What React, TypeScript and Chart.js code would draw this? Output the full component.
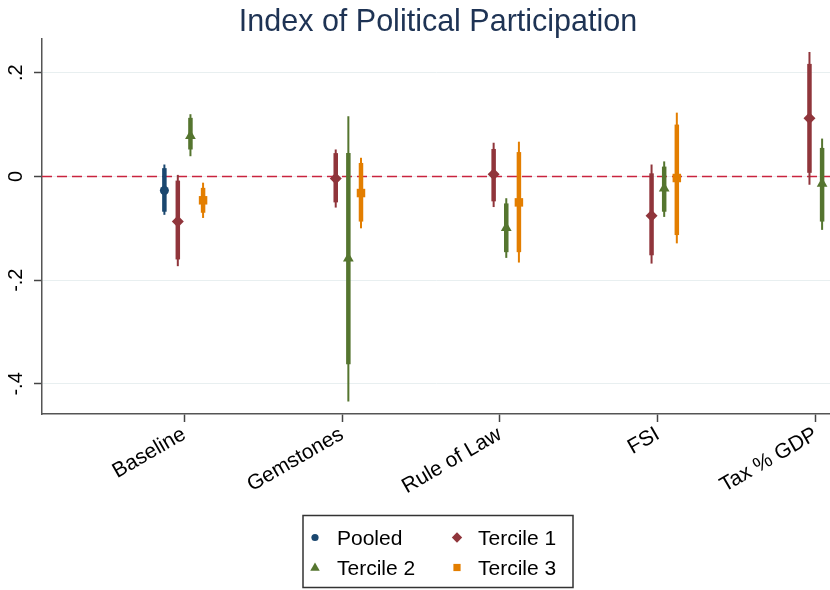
import React, { useEffect, useRef } from "react";
import { Chart, registerables } from "chart.js";

Chart.register(...registerables);

// ---------- data ----------
const chartTitle = "Index of Political Participation";
const categories = ["Baseline", "Gemstones", "Rule of Law", "FSI", "Tax % GDP"];
const yTickValues = [-0.4, -0.2, 0, 0.2];
const yTickLabels = ["-.4", "-.2", "0", ".2"];
const seriesNames = ["Pooled", "Tercile 1", "Tercile 2", "Tercile 3"];

const pooledCoef = [-0.027, null, null, null, null];
const pooledLo95 = [-0.074, null, null, null, null];
const pooledHi95 = [0.023, null, null, null, null];
const pooledLo90 = [-0.068, null, null, null, null];
const pooledHi90 = [0.016, null, null, null, null];

const t1Coef = [-0.087, -0.004, 0.004, -0.076, 0.112];
const t1Lo95 = [-0.173, -0.06, -0.059, -0.168, -0.016];
const t1Hi95 = [0.003, 0.052, 0.065, 0.023, 0.24];
const t1Lo90 = [-0.16, -0.05, -0.048, -0.152, 0.007];
const t1Hi90 = [-0.008, 0.045, 0.053, 0.006, 0.217];

const t2Coef = [0.078, -0.158, -0.099, -0.023, -0.014];
const t2Lo95 = [0.039, -0.434, -0.157, -0.078, -0.103];
const t2Hi95 = [0.12, 0.116, -0.042, 0.029, 0.073];
const t2Lo90 = [0.052, -0.362, -0.146, -0.068, -0.087];
const t2Hi90 = [0.113, 0.045, -0.052, 0.019, 0.055];

const t3Coef = [-0.046, -0.032, -0.05, -0.003, null];
const t3Lo95 = [-0.08, -0.1, -0.166, -0.129, null];
const t3Hi95 = [-0.012, 0.036, 0.067, 0.123, null];
const t3Lo90 = [-0.07, -0.087, -0.146, -0.113, null];
const t3Hi90 = [-0.022, 0.026, 0.047, 0.1, null];

// ---------- styles ----------
const FONT = "'Liberation Sans', Arial, Helvetica, sans-serif";
const colors = ["#1a476f", "#90353b", "#55752f", "#e37e00"];
const pointStyles = ["circle", "rectRot", "triangle", "rect"];
const pointRadii = [4.5, 6, 6.2, 6];
const offsets = [-0.125, -0.04, 0.04, 0.12];

const series = [
  { coef: pooledCoef, lo95: pooledLo95, hi95: pooledHi95, lo90: pooledLo90, hi90: pooledHi90 },
  { coef: t1Coef, lo95: t1Lo95, hi95: t1Hi95, lo90: t1Lo90, hi90: t1Hi90 },
  { coef: t2Coef, lo95: t2Lo95, hi95: t2Hi95, lo90: t2Lo90, hi90: t2Hi90 },
  { coef: t3Coef, lo95: t3Lo95, hi95: t3Hi95, lo90: t3Lo90, hi90: t3Hi90 },
];

function legendMarker(ctx: CanvasRenderingContext2D, style: string, x: number, y: number, color: string) {
  ctx.save();
  ctx.fillStyle = color;
  ctx.beginPath();
  if (style === "circle") {
    ctx.arc(x, y, 3.6, 0, Math.PI * 2);
  } else if (style === "rectRot") {
    const r = 5.2;
    ctx.moveTo(x, y - r);
    ctx.lineTo(x + r, y);
    ctx.lineTo(x, y + r);
    ctx.lineTo(x - r, y);
    ctx.closePath();
  } else if (style === "triangle") {
    const r = 5;
    ctx.moveTo(x, y - r);
    ctx.lineTo(x + r * 0.95, y + r * 0.65);
    ctx.lineTo(x - r * 0.95, y + r * 0.65);
    ctx.closePath();
  } else {
    ctx.rect(x - 3.6, y - 3.6, 7.2, 7.2);
  }
  ctx.fill();
  ctx.restore();
}

const coefPlugin = {
  id: "coefPlugin",
  beforeDatasetsDraw(chart: any) {
    const { ctx, chartArea, scales } = chart;
    const xs = scales.x;
    const ys = scales.y;
    ctx.save();
    // reference line at zero
    const y0 = ys.getPixelForValue(0);
    ctx.strokeStyle = "#c9243f";
    ctx.lineWidth = 1.6;
    ctx.setLineDash([10, 5]);
    ctx.beginPath();
    ctx.moveTo(chartArea.left, y0);
    ctx.lineTo(chartArea.right, y0);
    ctx.stroke();
    ctx.setLineDash([]);
    // confidence intervals
    series.forEach((s, si) => {
      ctx.strokeStyle = colors[si];
      s.coef.forEach((c, i) => {
        if (c === null) return;
        const px = xs.getPixelForValue(i + 1 + offsets[si]);
        ctx.lineWidth = 2;
        ctx.beginPath();
        ctx.moveTo(px, ys.getPixelForValue(s.lo95[i] as number));
        ctx.lineTo(px, ys.getPixelForValue(s.hi95[i] as number));
        ctx.stroke();
        ctx.lineWidth = 4.5;
        ctx.beginPath();
        ctx.moveTo(px, ys.getPixelForValue(s.lo90[i] as number));
        ctx.lineTo(px, ys.getPixelForValue(s.hi90[i] as number));
        ctx.stroke();
      });
    });
    ctx.restore();
  },
  afterDraw(chart: any) {
    const { ctx, scales } = chart;
    const ys = scales.y;
    ctx.save();
    // title
    ctx.fillStyle = "#1e3354";
    ctx.font = `30.5px ${FONT}`;
    ctx.textAlign = "center";
    ctx.textBaseline = "alphabetic";
    ctx.fillText(chartTitle, 438, 31);
    // y tick labels (rotated)
    ctx.fillStyle = "#000";
    ctx.font = `20px ${FONT}`;
    yTickValues.forEach((v, i) => {
      const py = ys.getPixelForValue(v);
      ctx.save();
      ctx.translate(22, py);
      ctx.rotate(-Math.PI / 2);
      ctx.textAlign = "center";
      ctx.textBaseline = "alphabetic";
      ctx.fillText(yTickLabels[i], 0, 0);
      ctx.restore();
    });
    // legend
    ctx.strokeStyle = "#333";
    ctx.lineWidth = 1.5;
    ctx.strokeRect(303, 515.5, 270, 72);
    const cells = [
      { x: 315, y: 537.5, tx: 337, ty: 545 },
      { x: 457, y: 537.5, tx: 478, ty: 545 },
      { x: 315, y: 567.5, tx: 337, ty: 575 },
      { x: 457, y: 567.5, tx: 478, ty: 575 },
    ];
    ctx.font = `21px ${FONT}`;
    ctx.textAlign = "left";
    ctx.textBaseline = "alphabetic";
    seriesNames.forEach((name, i) => {
      const c = cells[i];
      legendMarker(ctx, pointStyles[i], c.x, c.y, colors[i]);
      ctx.fillStyle = "#000";
      ctx.fillText(name, c.tx, c.ty);
    });
    ctx.restore();
  },
};

export default function App() {
  const ref = useRef<HTMLCanvasElement | null>(null);
  useEffect(() => {
    const canvas = ref.current;
    if (!canvas) return;
    const datasets = series.map((s, si) => ({
      label: seriesNames[si],
      data: s.coef
        .map((c, i) => (c === null ? null : { x: i + 1 + offsets[si], y: c }))
        .filter((d) => d !== null),
      pointStyle: pointStyles[si],
      pointRadius: pointRadii[si],
      pointHoverRadius: pointRadii[si],
      backgroundColor: colors[si],
      borderColor: colors[si],
      borderWidth: 0,
      showLine: false,
    }));
    const chart = new Chart(canvas, {
      type: "scatter",
      data: { datasets: datasets as any },
      options: {
        animation: false,
        responsive: false,
        devicePixelRatio: 1,
        layout: { autoPadding: false, padding: { top: 39, left: 0, right: 0, bottom: 0 } },
        plugins: { legend: { display: false }, tooltip: { enabled: false }, title: { display: false } },
        scales: {
          x: {
            type: "linear",
            min: 0.1,
            max: 5.09,
            afterBuildTicks: (s: any) => {
              s.ticks = categories.map((_, i) => ({ value: i + 1 }));
            },
            afterFit: (s: any) => {
              s.height = 176;
              s.paddingLeft = 0;
              s.paddingRight = 0;
            },
            ticks: {
              autoSkip: false,
              minRotation: 30,
              maxRotation: 30,
              padding: 0,
              color: "#000",
              font: { family: FONT, size: 21 },
              callback: (v: any) => categories[Math.round(Number(v)) - 1] ?? "",
            },
            grid: { drawOnChartArea: false, tickLength: 8, tickColor: "#444", tickWidth: 1.5 },
            border: { color: "#555", width: 1.5 },
          },
          y: {
            type: "linear",
            min: -0.458,
            max: 0.265,
            afterBuildTicks: (s: any) => {
              s.ticks = yTickValues.map((v) => ({ value: v }));
            },
            afterFit: (s: any) => {
              s.width = 42;
            },
            ticks: { display: false },
            grid: { color: "#e8eff0", lineWidth: 1, tickColor: "#444", tickLength: 8, tickWidth: 1.5 },
            border: { color: "#555", width: 1.5 },
          },
        },
      },
      plugins: [coefPlugin],
    });
    return () => chart.destroy();
  }, []);
  return (
    <div style={{ position: "absolute", left: 0, top: 0, width: 830, height: 590, background: "#fff" }}>
      <canvas ref={ref} width={830} height={590} style={{ display: "block" }} />
    </div>
  );
}
